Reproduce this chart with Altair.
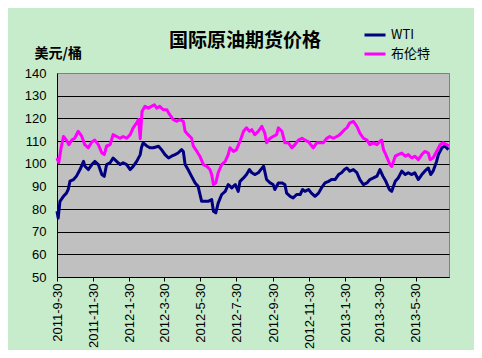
import altair as alt
import pandas as pd

# ---------------- data ----------------
series_names = ["WTI", "布伦特"]
series_colors = ["#000080", "#FF00FF"]

wti_dates = [
    "2011-09-30", "2011-10-02", "2011-10-05", "2011-10-11", "2011-10-16", "2011-10-19",
    "2011-10-22", "2011-10-28", "2011-11-02", "2011-11-08", "2011-11-14", "2011-11-16",
    "2011-11-22", "2011-11-28", "2011-12-03", "2011-12-09", "2011-12-15", "2011-12-19",
    "2011-12-23", "2011-12-29", "2012-01-03", "2012-01-09", "2012-01-15", "2012-01-20",
    "2012-01-26", "2012-02-01", "2012-02-06", "2012-02-12", "2012-02-18", "2012-02-20",
    "2012-02-23", "2012-02-29", "2012-03-06", "2012-03-11", "2012-03-20", "2012-03-25",
    "2012-03-31", "2012-04-06", "2012-04-11", "2012-04-17", "2012-04-22", "2012-04-28",
    "2012-05-01", "2012-05-04", "2012-05-09", "2012-05-15", "2012-05-21", "2012-05-26",
    "2012-06-01", "2012-06-07", "2012-06-12", "2012-06-18", "2012-06-21", "2012-06-25",
    "2012-06-29", "2012-07-05", "2012-07-11", "2012-07-16", "2012-07-22", "2012-07-28",
    "2012-08-02", "2012-08-05", "2012-08-11", "2012-08-16", "2012-08-21", "2012-08-25",
    "2012-08-30", "2012-09-05", "2012-09-14", "2012-09-19", "2012-09-25", "2012-09-30",
    "2012-10-03", "2012-10-09", "2012-10-15", "2012-10-20", "2012-10-23", "2012-10-29",
    "2012-11-03", "2012-11-09", "2012-11-15", "2012-11-19", "2012-11-23", "2012-11-29",
    "2012-12-04", "2012-12-10", "2012-12-16", "2012-12-21", "2012-12-27", "2013-01-02",
    "2013-01-07", "2013-01-13", "2013-01-19", "2013-01-24", "2013-01-29", "2013-02-02",
    "2013-02-07", "2013-02-13", "2013-02-19", "2013-02-24", "2013-03-02", "2013-03-08",
    "2013-03-13", "2013-03-19", "2013-03-25", "2013-03-30", "2013-04-04", "2013-04-09",
    "2013-04-15", "2013-04-19", "2013-04-25", "2013-04-30", "2013-05-06", "2013-05-12",
    "2013-05-17", "2013-05-23", "2013-05-28", "2013-06-03", "2013-06-09", "2013-06-14",
    "2013-06-20", "2013-06-24", "2013-06-28", "2013-07-04", "2013-07-07", "2013-07-13",
    "2013-07-18", "2013-07-24",
]
wti_values = [
    79, 76, 83.4, 85.6, 87, 88.6,
    92.3, 93, 94.5, 97.4, 101, 99,
    97.4, 99.6, 101, 99.6, 95.2, 94.4,
    99.6, 100.4, 102.5, 101, 99.6, 100.4,
    99.6, 97.4, 98.8, 101, 104, 107,
    109.2, 107.8, 107, 107, 107.7, 106.2,
    104, 102.5, 103.3, 104, 104.7, 106.2,
    105.4, 99.6, 97.4, 94.4, 91.5, 90,
    83.4, 83.4, 83.4, 84.2, 79, 78.3,
    82.6, 86.4, 87.8, 90.8, 89.3, 90.8,
    87.8, 92.2, 93.7, 95.2, 97.4, 96,
    95.2, 96, 98.9, 93, 91.5, 90.8,
    88.6, 91.5, 91.5, 90.8, 87, 85.6,
    84.9, 86.4, 86.4, 88.6, 87.8, 88.6,
    87, 85.6, 87, 89.3, 91.5, 92.2,
    93, 93, 95.2, 96, 97.4, 98.1,
    96.7, 97.4, 96, 93, 90.8, 91.5,
    93, 93.7, 94.5, 97.4, 94.5, 92.2,
    88.6, 87.8, 92.2, 93.7, 96.7, 95.2,
    96, 95.2, 96, 93, 95.2, 96.7,
    98.1, 95.2, 96.7, 101, 104, 107,
    107.8, 106.2,
]

brent_dates = [
    "2011-09-30", "2011-10-03", "2011-10-07", "2011-10-11", "2011-10-16", "2011-10-20",
    "2011-10-25", "2011-10-30", "2011-11-05", "2011-11-11", "2011-11-16", "2011-11-22",
    "2011-11-28", "2011-12-03", "2011-12-09", "2011-12-15", "2011-12-19", "2011-12-23",
    "2011-12-29", "2012-01-03", "2012-01-09", "2012-01-15", "2012-01-20", "2012-01-26",
    "2012-02-01", "2012-02-06", "2012-02-12", "2012-02-15", "2012-02-18", "2012-02-21",
    "2012-02-26", "2012-03-03", "2012-03-08", "2012-03-13", "2012-03-17", "2012-03-22",
    "2012-03-28", "2012-04-03", "2012-04-08", "2012-04-14", "2012-04-20", "2012-04-25",
    "2012-05-01", "2012-05-04", "2012-05-09", "2012-05-15", "2012-05-18", "2012-05-24",
    "2012-05-29", "2012-06-04", "2012-06-10", "2012-06-15", "2012-06-18", "2012-06-21",
    "2012-06-25", "2012-06-29", "2012-07-05", "2012-07-11", "2012-07-16", "2012-07-19",
    "2012-07-25", "2012-07-30", "2012-08-05", "2012-08-11", "2012-08-16", "2012-08-21",
    "2012-08-25", "2012-08-30", "2012-09-05", "2012-09-11", "2012-09-16", "2012-09-19",
    "2012-09-25", "2012-09-30", "2012-10-06", "2012-10-09", "2012-10-15", "2012-10-20",
    "2012-10-26", "2012-11-01", "2012-11-06", "2012-11-12", "2012-11-18", "2012-11-23",
    "2012-11-29", "2012-12-07", "2012-12-13", "2012-12-19", "2012-12-24", "2012-12-30",
    "2013-01-04", "2013-01-10", "2013-01-16", "2013-01-21", "2013-01-29", "2013-02-02",
    "2013-02-07", "2013-02-13", "2013-02-19", "2013-02-24", "2013-03-02", "2013-03-08",
    "2013-03-13", "2013-03-19", "2013-03-25", "2013-03-30", "2013-04-02", "2013-04-05",
    "2013-04-09", "2013-04-16", "2013-04-19", "2013-04-25", "2013-04-30", "2013-05-06",
    "2013-05-12", "2013-05-17", "2013-05-23", "2013-05-28", "2013-06-03", "2013-06-09",
    "2013-06-14", "2013-06-20", "2013-06-23", "2013-06-28", "2013-07-04", "2013-07-10",
    "2013-07-15", "2013-07-21", "2013-07-25",
]
brent_values = [
    102.5, 100.4, 107, 112, 110.4, 108.4,
    110.4, 111.2, 114.3, 112, 108.4, 107,
    109.6, 110.4, 108.4, 104.7, 104, 107.8,
    108.4, 112.8, 112, 111.2, 112, 111.2,
    112.8, 115.8, 118, 119.5, 111, 123,
    125.3, 124.5, 125.3, 126, 124.5, 125.3,
    123.8, 123.8, 121.6, 119.4, 118.7, 119.4,
    118.7, 114.3, 112.8, 111.2, 107.7, 105.4,
    103.3, 99.6, 98.8, 97.4, 95.2, 90.8,
    91.5, 96, 99.6, 101, 104, 107,
    105.4, 106.2, 109.9, 114.3, 115.8, 114.3,
    115, 112.8, 114.3, 116.5, 113.5, 109.2,
    111.2, 112, 112.8, 115.8, 114.3, 109.2,
    109.2, 107, 108.4, 110.4, 111.2, 110.4,
    109.6, 107, 109.2, 109.2, 109.2, 111.2,
    112, 111.2, 112, 112.8, 115, 115.8,
    118, 118.7, 116.5, 113.5, 111.2, 110.4,
    108.4, 109.2, 108.4, 109.9, 110.4, 106.2,
    104, 99.6, 98.8, 103.3, 104, 104.7,
    103.3, 104, 102.5, 103.3, 101.8, 104,
    105.4, 104.7, 101.8, 102.5, 105.4, 108.4,
    109.2, 108.4, 107.8,
]

y_ticks = [50, 60, 70, 80, 90, 100, 110, 120, 130, 140]
x_tick_dates = [
    "2011-09-30", "2011-11-30", "2012-01-30", "2012-03-30", "2012-05-30", "2012-07-30",
    "2012-09-30", "2012-11-30", "2013-01-30", "2013-03-30", "2013-05-30",
]
x_domain_dates = ["2011-09-30", "2013-07-25"]

title_text = "国际原油期货价格"
y_title_text = "美元/桶"


def to_dt(s):
    y, m, d = (int(p) for p in s.split("-"))
    return alt.DateTime(year=y, month=m, date=d, utc=True)


df = pd.concat(
    [
        pd.DataFrame({"date": wti_dates, "value": wti_values, "series": series_names[0], "order": 0}),
        pd.DataFrame({"date": brent_dates, "value": brent_values, "series": series_names[1], "order": 1}),
    ],
    ignore_index=True,
)

cjk = "Noto Sans CJK SC"
latin = "Liberation Sans"

chart = (
    alt.Chart(df)
    .mark_line(strokeWidth=3, strokeJoin="round")
    .encode(
        x=alt.X(
            "date:T",
            scale=alt.Scale(type="utc", domain=[to_dt(s) for s in x_domain_dates], nice=False),
            axis=alt.Axis(
                values=[to_dt(s) for s in x_tick_dates],
                format="%Y-%-m-%-d",
                labelAngle=270,
                labelFont=latin,
                labelFontSize=13,
                labelColor="black",
                labelPadding=2,
                domainColor="black",
                domainWidth=1,
                tickColor="black",
                tickSize=4,
                grid=False,
                title=None,
                labelOverlap=False,
                labelFlush=False,
            ),
        ),
        y=alt.Y(
            "value:Q",
            scale=alt.Scale(domain=[y_ticks[0], y_ticks[-1]], nice=False, zero=False),
            axis=alt.Axis(
                values=y_ticks,
                labelFont=latin,
                labelFontSize=13,
                labelColor="black",
                labelPadding=11,
                ticks=False,
                domainColor="black",
                domainWidth=1,
                grid=True,
                gridColor={"condition": {"test": "datum.value >= 140", "value": "#808080"}, "value": "black"},
                gridWidth=1,
                title=y_title_text,
                titleAngle=0,
                titleAlign="left",
                titleBaseline="alphabetic",
                titleX=-23,
                titleY=-16,
                titleFont=cjk,
                titleFontSize=14,
                titleFontWeight="bold",
                titleColor="black",
                labelFlush=False,
            ),
        ),
        color=alt.Color(
            "series:N",
            scale=alt.Scale(domain=series_names, range=series_colors),
            legend=alt.Legend(
                orient="none",
                legendX=306,
                legendY=-50,
                title=None,
                direction="vertical",
                symbolType="stroke",
                symbolStrokeWidth=3,
                symbolSize=441,
                labelFont=cjk,
                labelFontSize=13,
                labelColor="black",
                labelOffset=4,
                rowPadding=0,
            ),
        ),
        order=alt.Order("order:Q"),
        detail="series:N",
    )
    .properties(
        width=392,
        height=204,
        autosize=alt.AutoSizeParams(type="none"),
        padding={"left": 49, "top": 65, "right": 25, "bottom": 73},
        title=alt.Title(
            title_text,
            font=cjk,
            fontSize=19,
            fontWeight="bold",
            color="black",
            anchor="middle",
            frame="group",
            dx=-8,
            dy=28,
            offset=0,
        ),
    )
    .configure(background="#C7ECCC")
    .configure_view(fill="#C0C0C0", stroke="#808080", strokeWidth=1)
)

chart.save("out.html", embed_options={"renderer": "svg", "actions": False})
